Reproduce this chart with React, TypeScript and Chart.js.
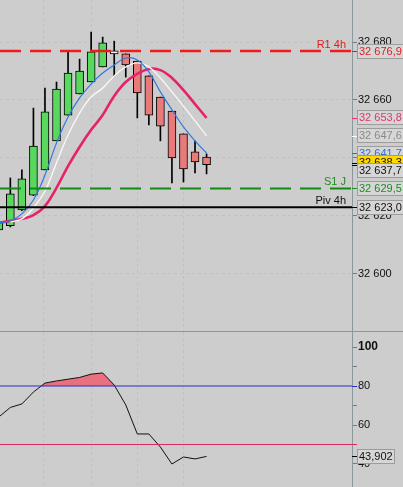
import React, { useEffect, useRef } from 'react';
import { Chart, registerables } from 'chart.js';

Chart.register(...registerables);

// ---------------- data ----------------
const candleIndex = [0, 1, 2, 3, 4, 5, 6, 7, 8, 9, 10, 11, 12, 13, 14, 15, 16, 17, 18];
const opens = [32615.2, 32616.6, 32622.1, 32627.2, 32635.9, 32645.9, 32654.8, 32662.1, 32666.2, 32671.4, 32675.9, 32675.9, 32673.4, 32668.3, 32661.0, 32656.2, 32648.3, 32642.1, 32640.3];
const highs = [32618.5, 32633.1, 32635.9, 32657.2, 32664.1, 32666.2, 32676.6, 32674.1, 32683.4, 32681.7, 32680.3, 32675.9, 32673.4, 32668.3, 32661.0, 32656.2, 32648.3, 32645.9, 32641.4];
const lows = [32614.5, 32616.2, 32621.8, 32627.0, 32635.9, 32645.9, 32654.8, 32662.1, 32666.2, 32671.4, 32668.3, 32667.9, 32653.8, 32651.4, 32645.9, 32631.4, 32631.7, 32634.8, 32634.5];
const closes = [32617.9, 32627.6, 32632.8, 32644.1, 32655.9, 32663.8, 32669.3, 32670.0, 32676.6, 32679.7, 32675.9, 32672.1, 32662.4, 32654.8, 32651.0, 32640.0, 32636.2, 32638.6, 32637.7];

const maFast = [32617.6, 32618.3, 32620.7, 32625.5, 32634.1, 32645.2, 32654.1, 32660.7, 32665.5, 32669.3, 32672.1, 32674.5, 32673.8, 32669.7, 32662.8, 32656.6, 32650.7, 32645.9, 32641.7];
const maMid = [null, 32617.9, 32619.0, 32622.8, 32628.6, 32638.3, 32647.9, 32655.5, 32661.0, 32664.1, 32668.3, 32671.4, 32672.8, 32671.4, 32667.6, 32662.8, 32657.9, 32652.8, 32647.6];
const maSlow = [32617.6, 32618.3, 32619.0, 32620.3, 32623.4, 32629.7, 32637.2, 32643.8, 32649.7, 32654.8, 32661.4, 32666.2, 32669.0, 32670.7, 32670.3, 32667.6, 32663.4, 32658.6, 32653.8];

const oscillator = [64.1, 69.0, 70.8, 76.9, 81.5, 82.6, 83.5, 84.4, 86.1, 86.7, 80.5, 70.3, 55.4, 55.4, 48.7, 40.0, 43.6, 42.6, 43.902];

const priceTicks = [32600, 32620, 32640, 32660, 32680];
const oscTicks = [40, 50, 60, 70, 80, 90, 100];
const oscLabelTicks = [40, 60, 80, 100];
const sessionGrid = [3.85, 8.05, 12.05, 16.0];

const r1Level = 32676.9;
const s1Level = 32629.5;
const pivLevel = 32623.0;
const refPrice = 32638.3;
const oscHigh = 80;
const oscLow = 50;

// ---------------- style ----------------
const BG = '#cdcdcd';
const AXIS = '#8a989c';
const GRID = 'rgba(160,160,160,0.28)';
const FONT = '"Liberation Sans", Arial, Helvetica, sans-serif';
const UP = '#58d85c';
const DOWN = '#e87a7a';
const DOJI = '#f2f2f2';
const BOX_FILL = '#d6d6d6';
const BOX_BORDER = '#9c9c9c';

const X_MIN = 0.104;
const X_MAX = 30.6;
const AXIS_W = 51;

const fmt = (v: number, dec: number) => {
  const s = v.toFixed(dec);
  const [ip, dp] = s.split('.');
  const g = ip.replace(/\B(?=(\d{3})+(?!\d))/g, ' ');
  return dp ? `${g},${dp}` : g;
};

const last = candleIndex.length - 1;

const priceBoxes = [
  { value: r1Level, text: '#e01c1c', fill: BOX_FILL, mark: '#e01c1c' },
  { value: maSlow[last] as number, text: '#e0356e', fill: BOX_FILL, mark: '#e0356e' },
  { value: maMid[last] as number, text: '#8a8a8a', fill: BOX_FILL, mark: '#ffffff' },
  { value: maFast[last] as number, text: '#2b6fd8', fill: BOX_FILL, mark: '#2b6fd8' },
  { value: refPrice, text: '#111111', fill: '#ffd800', mark: '#000000' },
  { value: closes[last], text: '#111111', fill: BOX_FILL, mark: '#000000' },
  { value: s1Level, text: '#1f8a1f', fill: BOX_FILL, mark: '#1f8a1f' },
  { value: pivLevel, text: '#111111', fill: BOX_FILL, mark: '#000000' },
];

const lineLabels = [
  { value: r1Level, text: 'R1 4h', color: '#e01c1c' },
  { value: s1Level, text: 'S1 J', color: '#1f8a1f' },
  { value: pivLevel, text: 'Piv 4h', color: '#111111' },
];

const xScaleOptions = () => ({
  type: 'linear' as const,
  min: X_MIN,
  max: X_MAX,
  offset: false,
  afterBuildTicks: (s: any) => {
    s.ticks = sessionGrid.map((v) => ({ value: v }));
  },
  afterFit: (s: any) => {
    s.height = 0;
    s.paddingLeft = 0;
    s.paddingRight = 0;
  },
  ticks: { display: false },
  grid: { color: GRID, lineWidth: 1, drawTicks: false, offset: false },
  border: { display: false, dash: [3, 3] },
});

const levelLine = (value: number, color: string, width: number, dash: number[]) => ({
  type: 'line' as const,
  data: [
    { x: X_MIN, y: value },
    { x: X_MAX, y: value },
  ],
  borderColor: color,
  borderWidth: width,
  borderDash: dash,
  pointRadius: 0,
  fill: false,
  order: 0,
});

export default function App() {
  const topRef = useRef<HTMLCanvasElement>(null);
  const botRef = useRef<HTMLCanvasElement>(null);

  useEffect(() => {
    document.body.style.margin = '0';
    document.body.style.background = BG;

    const candleColors = candleIndex.map((i) =>
      closes[i] > opens[i] ? UP : closes[i] < opens[i] ? DOWN : DOJI
    );

    const topPlugin = {
      id: 'topOverlay',
      afterDraw(chart: any) {
        const ctx = chart.ctx as CanvasRenderingContext2D;
        const ys = chart.scales.y;
        const area = chart.chartArea;
        ctx.save();
        ctx.font = `11px ${FONT}`;
        ctx.textAlign = 'right';
        ctx.textBaseline = 'alphabetic';
        lineLabels.forEach((l) => {
          ctx.fillStyle = l.color;
          ctx.fillText(l.text, area.right - 6, ys.getPixelForValue(l.value) - 3);
        });
        const H = 15;
        const left = area.right + 5;
        let prevCenter = -Infinity;
        ctx.textAlign = 'left';
        ctx.textBaseline = 'middle';
        priceBoxes.forEach((b) => {
          const py = ys.getPixelForValue(b.value);
          ctx.strokeStyle = b.mark;
          ctx.lineWidth = 1;
          ctx.beginPath();
          ctx.moveTo(area.right, Math.round(py) + 0.5);
          ctx.lineTo(area.right + 5, Math.round(py) + 0.5);
          ctx.stroke();
          const top = Math.round(Math.max(py - H / 2, prevCenter));
          ctx.fillStyle = b.fill;
          ctx.fillRect(left, top, 60, H);
          ctx.strokeStyle = BOX_BORDER;
          ctx.strokeRect(left + 0.5, top + 0.5, 60, H - 1);
          ctx.fillStyle = b.text;
          ctx.fillText(fmt(b.value, 1), left + 2, top + H / 2 + 0.5);
          prevCenter = top + H / 2;
        });
        ctx.restore();
      },
    };

    const botPlugin = {
      id: 'botOverlay',
      afterDraw(chart: any) {
        const ctx = chart.ctx as CanvasRenderingContext2D;
        const ys = chart.scales.y;
        const area = chart.chartArea;
        ctx.save();
        const marks = [
          { v: oscHigh, c: '#2a2ac8' },
          { v: oscLow, c: '#d62a60' },
        ];
        marks.forEach((m) => {
          const py = Math.round(ys.getPixelForValue(m.v)) + 0.5;
          ctx.strokeStyle = m.c;
          ctx.lineWidth = 1;
          ctx.beginPath();
          ctx.moveTo(area.right, py);
          ctx.lineTo(area.right + 5, py);
          ctx.stroke();
        });
        const v = oscillator[last];
        const py = ys.getPixelForValue(v);
        ctx.strokeStyle = '#000';
        ctx.beginPath();
        ctx.moveTo(area.right, Math.round(py) + 0.5);
        ctx.lineTo(area.right + 5, Math.round(py) + 0.5);
        ctx.stroke();
        ctx.font = `11px ${FONT}`;
        const txt = fmt(v, 3);
        const w = Math.ceil(ctx.measureText(txt).width) + 4;
        const H = 15;
        const left = area.right + 5;
        const top = Math.round(py - H / 2);
        ctx.fillStyle = BOX_FILL;
        ctx.fillRect(left, top, w, H);
        ctx.strokeStyle = BOX_BORDER;
        ctx.strokeRect(left + 0.5, top + 0.5, w - 1, H - 1);
        ctx.fillStyle = '#111';
        ctx.textAlign = 'left';
        ctx.textBaseline = 'middle';
        ctx.fillText(txt, left + 2, top + H / 2 + 0.5);
        ctx.restore();
      },
    };

    const top = new Chart(topRef.current as HTMLCanvasElement, {
      type: 'bar',
      data: {
        datasets: [
          levelLine(r1Level, '#ee1c1c', 2.5, [21, 9]),
          levelLine(s1Level, '#138a13', 2, [21, 9]),
          levelLine(pivLevel, '#000000', 2, []),
          {
            type: 'line',
            data: candleIndex.map((i) => ({ x: i, y: maFast[i] })),
            borderColor: '#3079e0',
            borderWidth: 1.2,
            pointRadius: 0,
            tension: 0.4,
            fill: false,
            order: 1,
          },
          {
            type: 'line',
            data: candleIndex.map((i) => ({ x: i, y: maMid[i] })),
            borderColor: '#f6f6f6',
            borderWidth: 1.4,
            pointRadius: 0,
            tension: 0.4,
            fill: false,
            order: 2,
          },
          {
            type: 'line',
            data: candleIndex.map((i) => ({ x: i, y: maSlow[i] })),
            borderColor: '#e6226a',
            borderWidth: 2.6,
            pointRadius: 0,
            tension: 0.4,
            fill: false,
            order: 3,
          },
          {
            type: 'bar',
            data: candleIndex.map((i) => ({ x: i, y: [opens[i], closes[i]] })),
            backgroundColor: candleColors,
            borderColor: '#000000',
            borderWidth: 1,
            borderSkipped: false,
            barThickness: 8,
            minBarLength: 3,
            grouped: false,
            order: 5,
          },
          {
            type: 'bar',
            data: candleIndex.map((i) => ({ x: i, y: [lows[i], highs[i]] })),
            backgroundColor: '#000000',
            borderWidth: 0,
            barThickness: 1,
            grouped: false,
            order: 6,
          },
        ] as any,
      },
      options: {
        responsive: false,
        devicePixelRatio: 1,
        animation: false,
        layout: { padding: 0 },
        plugins: { legend: { display: false }, tooltip: { enabled: false } },
        scales: {
          x: xScaleOptions() as any,
          y: {
            type: 'linear',
            position: 'right',
            min: 32580.3,
            max: 32694.5,
            afterBuildTicks: (s: any) => {
              s.ticks = priceTicks.map((v) => ({ value: v }));
            },
            afterFit: (s: any) => {
              s.width = AXIS_W;
              s.paddingTop = 0;
              s.paddingBottom = 0;
            },
            ticks: {
              color: '#111111',
              font: { family: FONT, size: 11 },
              padding: 1,
              callback: (v: any) => fmt(Number(v), 0),
            },
            grid: { color: GRID, lineWidth: 1, tickColor: '#6f7c80', tickLength: 5, drawTicks: true },
            border: { display: true, color: AXIS, width: 1, dash: [3, 3] },
          } as any,
        },
      },
      plugins: [topPlugin],
    });

    const bot = new Chart(botRef.current as HTMLCanvasElement, {
      type: 'line',
      data: {
        datasets: [
          levelLine(oscHigh, '#2a2ac8', 1, []),
          levelLine(oscLow, '#d62a60', 1, []),
          {
            type: 'line',
            data: candleIndex.map((i) => ({ x: i, y: oscillator[i] })),
            borderColor: '#111111',
            borderWidth: 1,
            pointRadius: 0,
            tension: 0,
            fill: { target: { value: oscHigh }, above: '#e8707f', below: 'rgba(0,0,0,0)' },
            order: 1,
          },
        ] as any,
      },
      options: {
        responsive: false,
        devicePixelRatio: 1,
        animation: false,
        layout: { padding: 0 },
        plugins: { legend: { display: false }, tooltip: { enabled: false } },
        scales: {
          x: xScaleOptions() as any,
          y: {
            type: 'linear',
            position: 'right',
            min: 28.2,
            max: 107.7,
            afterBuildTicks: (s: any) => {
              s.ticks = oscTicks.map((v) => ({ value: v }));
            },
            afterFit: (s: any) => {
              s.width = AXIS_W;
              s.paddingTop = 0;
              s.paddingBottom = 0;
            },
            ticks: {
              color: '#111111',
              padding: 1,
              font: (ctx: any) =>
                ctx.tick && ctx.tick.value === 100
                  ? { family: FONT, size: 12, weight: 'bold' }
                  : { family: FONT, size: 11 },
              callback: (v: any) => (oscLabelTicks.includes(Number(v)) ? String(v) : ''),
            },
            grid: { drawOnChartArea: false, tickColor: '#6f7c80', tickLength: 5, drawTicks: true },
            border: { display: true, color: AXIS, width: 1 },
          } as any,
        },
      },
      plugins: [botPlugin],
    });

    return () => {
      top.destroy();
      bot.destroy();
    };
  }, []);

  return (
    <div style={{ width: 403, height: 487, background: BG, overflow: 'hidden' }}>
      <canvas ref={topRef} width={403} height={331} style={{ display: 'block' }} />
      <div style={{ height: 1, background: AXIS }} />
      <canvas ref={botRef} width={403} height={155} style={{ display: 'block' }} />
    </div>
  );
}
